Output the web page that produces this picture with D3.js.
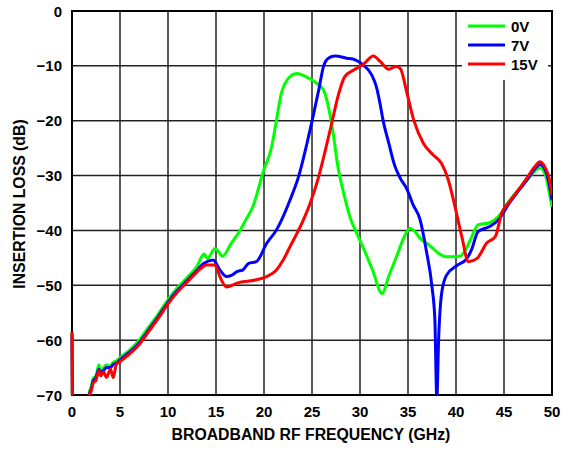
<!DOCTYPE html>
<html><head><meta charset="utf-8">
<script src="https://cdn.jsdelivr.net/npm/d3@7"></script>
<style>body{margin:0;background:#fff}svg{display:block}text{font-family:"Liberation Sans",Arial,sans-serif;font-weight:bold}</style>
</head><body>
<script>
const xTicks = [0,5,10,15,20,25,30,35,40,45,50];
const yTicks = [0,-10,-20,-30,-40,-50,-60,-70];
const seriesNames = ["0V","7V","15V"];
const seriesColors = ["#00ff00","#0000ff","#ff0000"];

const lowF = [0,0.08,1.6,1.8,2.0,2.2,2.5,2.8,3.0,3.3,3.6,4.0,4.3,4.6,5.0,6.0,7.0,8.0,9.0,10.0,11.0,12.0,13.0];

const greenF = lowF.concat([13.75,14.1,14.9,15.7,16.5,17.5,18.0,18.9,19.9,20.8,21.3,21.8,22.4,23.4,24.4,25.5,26.2,26.7,27.2,27.7,28.3,29.0,29.5,30.3,31.3,32.3,33.0,33.8,34.6,35.2,35.7,36.25,37.3,38.2,39.0,40.4,41.0,41.5,42.3,43.5,44.4,45.6,46.5,47.4,48.2,48.75,49.3,49.7,50]);
const greenDb = [-58.5,-76,-76,-69.5,-68.5,-67,-66.5,-64.5,-65.8,-65,-64.5,-64.8,-64,-63.8,-63.2,-61.8,-60,-57.6,-55.2,-52.6,-50.4,-48.6,-46.6,
  -44.3,-45.1,-43.3,-44.7,-42.6,-40,-38.4,-35.4,-29.4,-24.7,-19.9,-15.0,-12.6,-11.4,-12.0,-13.2,-14.4,-17.4,-22.3,-28.4,-33.2,-37.8,-39.9,-43.0,-47.2,-51.5,-48.3,-44.8,-41.2,-39.6,-40.2,-41.4,-42.8,-44.2,-44.8,-44.7,-43.5,-41.7,-39.0,-38.6,-37.5,-34.5,-32.6,-30.8,-29.2,-28.6,-29.8,-33,-35.7];

const blueF = lowF.concat([13.75,14.7,15.4,16.1,16.6,17.2,17.8,18.4,19.2,20.3,21.3,21.8,22.7,23.6,24.4,25.1,25.7,26.2,26.7,27.4,28.6,29.5,30.3,31.2,31.7,32.1,32.4,33.0,33.6,34.2,34.9,35.5,36.25,36.9,37.5,37.8,38.0,38.2,38.5,39.0,40.1,41.1,41.6,42.3,43.5,44.4,45.6,46.5,47.4,48.2,48.75,49.3,49.7,50]);
const blueDb = [-59,-76,-76,-70,-69,-67.5,-66.8,-65.3,-66,-65.5,-65,-65,-64.4,-64.2,-63.6,-62.2,-60.5,-58.1,-55.7,-53.1,-50.9,-49.1,-47.3,
  -46.0,-45.4,-47.2,-48.4,-48.2,-47.5,-47.2,-46.0,-45.7,-42.3,-39.9,-38.2,-34.5,-30.2,-24.7,-19.3,-14.4,-10.1,-8.6,-8.2,-8.6,-8.9,-9.8,-11.6,-13.8,-17.0,-19.9,-24.1,-28.1,-30.5,-32.5,-35.2,-38.0,-43.6,-50.3,-56.3,-70.5,-59.4,-51.5,-48.2,-46.4,-45.2,-43.6,-40.2,-39.3,-38.1,-34.9,-32.8,-30.8,-28.8,-28.0,-29.0,-31.5,-34.5];

const redF = lowF.concat([13.5,14.0,14.9,15.4,16.1,17.2,19.2,20.3,21.3,22.0,22.7,24.0,24.8,25.7,26.4,27.05,27.7,28.4,29.3,30.3,31.4,32.1,33.0,33.8,34.2,34.9,35.6,36.6,37.6,38.5,39.2,39.9,40.6,41.3,42.2,43.2,44.1,44.75,45.6,46.5,47.4,48.2,48.75,49.3,49.7,50]);
const redDb = [-58.5,-76,-76,-70,-69.3,-67.8,-67.3,-65.6,-66.5,-65.8,-66.8,-65.3,-66.8,-64.5,-63.9,-62.5,-60.8,-58.4,-56.0,-53.4,-51.2,-49.4,-47.6,
  -46.8,-46.3,-46.3,-48.4,-50.3,-49.6,-49.0,-48.4,-47.2,-45.4,-43.0,-38.5,-35.1,-30.2,-25.3,-20.5,-15.6,-12.0,-10.8,-9.8,-8.2,-9.2,-10.6,-10.1,-10.5,-15,-19.9,-24.1,-26.2,-27.8,-30.8,-35.7,-41.1,-45.7,-45.1,-42.3,-41.1,-36.9,-34.7,-32.6,-30.4,-28.4,-27.5,-28.6,-30.5,-33.5];

const W = 562, H = 451;
const m = {l:72, r:552, t:11, b:395};
const svg = d3.select("body").append("svg").attr("width",W).attr("height",H);
const x = d3.scaleLinear().domain([0,50]).range([m.l,m.r]);
const y = d3.scaleLinear().domain([-70,0]).range([m.b,m.t]);

svg.append("defs").append("clipPath").attr("id","clip").append("rect")
  .attr("x",m.l-2).attr("y",m.t).attr("width",m.r-m.l+2).attr("height",m.b-m.t);

// grid
const grid = svg.append("g").attr("stroke","#222").attr("stroke-width",1.5);
xTicks.slice(1,-1).forEach(v=>grid.append("line").attr("x1",x(v)).attr("x2",x(v)).attr("y1",m.t).attr("y2",m.b));
yTicks.slice(1,-1).forEach(v=>grid.append("line").attr("x1",m.l).attr("x2",m.r).attr("y1",y(v)).attr("y2",y(v)));

// legend background
svg.append("rect").attr("x",462).attr("y",m.t+1).attr("width",86).attr("height",68).attr("fill","#fff");

// border
svg.append("rect").attr("x",m.l).attr("y",m.t).attr("width",m.r-m.l).attr("height",m.b-m.t)
  .attr("fill","none").attr("stroke","#000").attr("stroke-width",2);

// series
const data = [[greenF,greenDb],[blueF,blueDb],[redF,redDb]];
const line = d3.line().x(d=>x(d[0])).y(d=>y(d[1])).curve(d3.curveMonotoneX);
const pg = svg.append("g").attr("clip-path","url(#clip)");
data.forEach((s,i)=>{
  const pts = s[0].map((f,j)=>[f,s[1][j]]);
  pg.append("path").attr("d",line(pts)).attr("fill","none")
    .attr("stroke",seriesColors[i]).attr("stroke-width",3).attr("stroke-linejoin","round");
});

// legend
seriesNames.forEach((n,i)=>{
  const yy = 26 + i*19;
  svg.append("line").attr("x1",468).attr("x2",505).attr("y1",yy).attr("y2",yy)
    .attr("stroke",seriesColors[i]).attr("stroke-width",3);
  svg.append("text").attr("x",511).attr("y",yy+6).attr("font-size",15).text(n);
});

// tick labels
const fmt = v => v<0 ? "\u2212"+Math.abs(v) : String(v);
xTicks.forEach(v=>svg.append("text").attr("x",x(v)).attr("y",417).attr("text-anchor","middle").attr("font-size",15).text(v));
yTicks.forEach(v=>svg.append("text").attr("x",62).attr("y",y(v)+5.5).attr("text-anchor","end").attr("font-size",15).text(fmt(v)));

// axis titles
svg.append("text").attr("x",311).attr("y",440).attr("text-anchor","middle").attr("font-size",15.8).text("BROADBAND RF FREQUENCY (GHz)");
svg.append("text").attr("transform",`translate(25,204) rotate(-90)`).attr("text-anchor","middle").attr("font-size",15.8).text("INSERTION LOSS (dB)");
</script>
</body></html>
